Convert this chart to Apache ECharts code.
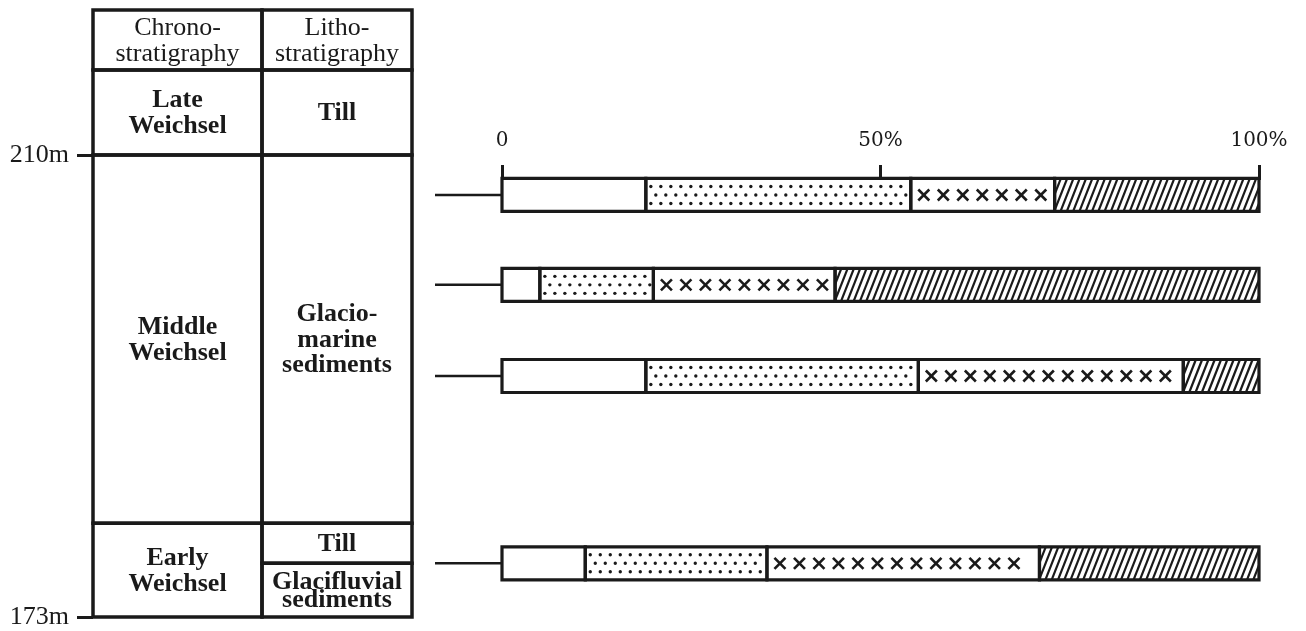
<!DOCTYPE html>
<html><head><meta charset="utf-8">
<script src="https://cdn.jsdelivr.net/npm/echarts@6/dist/echarts.min.js"></script>
<style>html,body{margin:0;padding:0;background:#fff}#c{width:1306px;height:631px}</style>
</head><body><div id="c"></div>
<script>
// ---------- data ----------
const headerLabels = ['Chrono-\nstratigraphy', 'Litho-\nstratigraphy'];
const chronoUnits = ['Late\nWeichsel', 'Middle\nWeichsel', 'Early\nWeichsel'];
const chronoBase = [210, 180.5, 173];
const lithoUnits = ['Till', 'Glacio-\nmarine\nsediments', 'Till', 'Glacifluvial\nsediments'];
const lithoBase = [210, 180.5, 177.3, 173];
const depthTicks = [210, 173];
const sampleDepths = [206.8, 199.6, 192.3, 177.3];
const percentTicks = [0, 50, 100];
const clearPct = [19, 5, 19, 11];
const dottedPct = [35, 15, 36, 24];
const crossPct = [19, 24, 35, 36];
const hatchPct = [27, 56, 10, 29];

// ---------- layout ----------
const PX_TOP = 10, PX_HEADER = 70, PX_210 = 155, PX_173 = 617, PX_BAR_TOP = 180;
const TABLE_LEFT = 93, TABLE_W = 319, COL_EDGES = [0, 169, 319];
const pxPerM = (PX_173 - PX_210) / (210 - 173);
const depthAt = px => 210 - (px - PX_210) / pxPerM;
const yMin = 173;
const yMaxTable = depthAt(PX_TOP), surface = depthAt(PX_HEADER), yMaxBars = depthAt(PX_BAR_TOP);
const INK = '#1a1a1a';

// ---------- table cells ----------
const cells = [];
headerLabels.forEach((t, c) => cells.push({c, top: yMaxTable, base: surface, text: t, bold: false}));
let cur = surface;
chronoUnits.forEach((t, i) => { cells.push({c: 0, top: cur, base: chronoBase[i], text: t, bold: true}); cur = chronoBase[i]; });
cur = surface;
lithoUnits.forEach((t, i) => { cells.push({c: 1, top: cur, base: lithoBase[i], text: t, bold: true}); cur = lithoBase[i]; });

function renderCell(params, api) {
  const cell = cells[api.value(3)];
  const a = api.coord([COL_EDGES[cell.c], cell.top]), b = api.coord([COL_EDGES[cell.c + 1], cell.base]);
  const x = a[0], y = a[1], w = b[0] - a[0], h = b[1] - a[1];
  const lh = h < 58 ? 18 : 25.5;
  return {type: 'group', children: [
    {type: 'rect', shape: {x, y, width: w, height: h}, style: {fill: 'none', stroke: INK, lineWidth: 3.5}},
    {type: 'text', style: {text: cell.text, x: x + w / 2, y: y + h / 2 + 1, align: 'center', verticalAlign: 'middle',
      fontFamily: 'Liberation Serif', fontSize: 26, fontWeight: cell.bold ? 'bold' : 'normal', lineHeight: lh, fill: INK}}
  ]};
}

// ---------- bars ----------
const comps = [clearPct, dottedPct, crossPct, hatchPct];
const barData = [];
sampleDepths.forEach((d, i) => {
  let s = 0;
  comps.forEach((arr, k) => { const e = s + arr[i]; barData.push([s, e, d, k]); s = e; });
});

function renderBar(params, api) {
  const s = api.value(0), e = api.value(1), d = api.value(2), k = api.value(3);
  const p0 = api.coord([s, d]), p1 = api.coord([e, d]);
  const H = 33, x = p0[0], w = p1[0] - p0[0], y = p0[1] - H / 2, cy = p0[1];
  const ch = [];
  if (k === 1) {
    for (let r = 0; r < 3; r++) {
      const yy = y + 8 + r * 8.5, off = (r % 2) ? 5 : 0;
      for (let xx = x + 5 + off; xx < x + w - 3; xx += 10)
        ch.push({type: 'circle', shape: {cx: xx, cy: yy, r: 1.7}, style: {fill: INK}});
    }
  } else if (k === 2) {
    const q = 5.5;
    for (let xx = x + 13; xx < x + w - 7; xx += 19.5) {
      ch.push({type: 'line', shape: {x1: xx - q, y1: cy - q, x2: xx + q, y2: cy + q}, style: {stroke: INK, lineWidth: 2.6}});
      ch.push({type: 'line', shape: {x1: xx - q, y1: cy + q, x2: xx + q, y2: cy - q}, style: {stroke: INK, lineWidth: 2.6}});
    }
  } else if (k === 3) {
    const kx = 13, step = 6.3;
    for (let b = x - kx; b < x + w; b += step) {
      let x1 = b, y1 = y + H, x2 = b + kx, y2 = y;
      if (x1 < x) { const t = (x - b) / kx; x1 = x; y1 = y + H - t * H; }
      if (x2 > x + w) { const t = (x + w - b) / kx; x2 = x + w; y2 = y + H - t * H; }
      if (x2 > x1) ch.push({type: 'line', shape: {x1, y1, x2, y2}, style: {stroke: INK, lineWidth: 2.2}});
    }
  }
  ch.push({type: 'rect', shape: {x, y, width: w, height: H}, style: {fill: 'none', stroke: INK, lineWidth: 3.2}});
  if (k === 0) ch.push({type: 'line', shape: {x1: x - 67, y1: cy, x2: x, y2: cy}, style: {stroke: INK, lineWidth: 2.5}});
  return {type: 'group', children: ch};
}

const chart = echarts.init(document.getElementById('c'), null, {renderer: 'canvas'});
chart.setOption({
  animation: false,
  backgroundColor: '#fff',
  grid: [
    {left: TABLE_LEFT, width: TABLE_W, top: PX_TOP, bottom: 631 - PX_173},
    {left: 502, width: 757, top: PX_BAR_TOP, bottom: 631 - PX_173}
  ],
  xAxis: [
    {gridIndex: 0, type: 'value', min: COL_EDGES[0], max: COL_EDGES[COL_EDGES.length - 1], show: false},
    {gridIndex: 1, type: 'value', min: 0, max: 100, interval: 50, position: 'top',
     axisLine: {show: false}, splitLine: {show: false},
     axisTick: {show: true, length: 15, lineStyle: {color: INK, width: 3}, customValues: percentTicks},
     axisLabel: {margin: 29, fontFamily: 'DejaVu Serif', fontSize: 20, color: INK, customValues: percentTicks,
       formatter: v => v === 0 ? '0' : v + '%'}}
  ],
  yAxis: [
    {gridIndex: 0, type: 'value', min: yMin, max: yMaxTable,
     axisLine: {show: false}, splitLine: {show: false},
     axisTick: {show: true, length: 16, lineStyle: {color: INK, width: 3}, customValues: depthTicks},
     axisLabel: {margin: 24, fontFamily: 'Liberation Serif', fontSize: 26, color: INK, customValues: depthTicks,
       formatter: v => v + 'm'}},
    {gridIndex: 1, type: 'value', min: yMin, max: yMaxBars, show: false}
  ],
  series: [
    {type: 'custom', xAxisIndex: 0, yAxisIndex: 0, clip: false, renderItem: renderCell,
     data: cells.map((c, i) => [c.c, c.top, c.base, i])},
    {type: 'custom', xAxisIndex: 1, yAxisIndex: 1, clip: false, renderItem: renderBar, data: barData}
  ]
});
</script></body></html>
